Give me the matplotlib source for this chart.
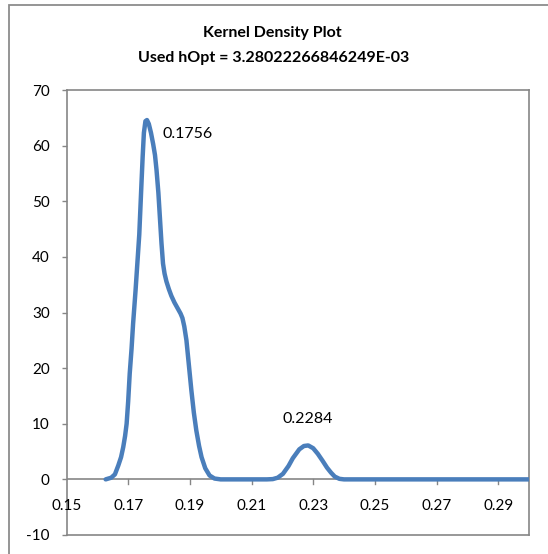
import matplotlib
matplotlib.use("Agg")
import matplotlib.pyplot as plt
from matplotlib.patches import Rectangle

# Data
x_vals = [0.1627, 0.1645, 0.1657, 0.1668, 0.1677, 0.1684, 0.1690, 0.1695, 0.1700,
          0.1705, 0.1711, 0.1716, 0.1724, 0.1730, 0.1736, 0.1743, 0.1747, 0.1751,
          0.1756, 0.1761, 0.1767, 0.1774, 0.1781, 0.1787, 0.1792, 0.1798, 0.1803, 0.1808,
          0.1813, 0.1818, 0.1824, 0.1832, 0.1840, 0.1850, 0.1860, 0.1870, 0.1876,
          0.1882, 0.1889, 0.1897, 0.1905, 0.1913, 0.1921, 0.1930, 0.1938, 0.1950,
          0.1964, 0.1980, 0.2000, 0.2100, 0.2150, 0.2169, 0.2185, 0.2202, 0.2220,
          0.2234, 0.2255, 0.2270, 0.2284, 0.2300, 0.2315, 0.2331, 0.2345, 0.2358,
          0.2370, 0.2385, 0.2400, 0.2500, 0.2600, 0.2700, 0.2800, 0.2900, 0.3000]
y_vals = [0.0, 0.3, 0.9, 2.5, 4.0, 5.8, 7.8, 10.0, 14.0,
          19.0, 23.5, 28.0, 34.0, 39.0, 44.0, 53.0, 58.0, 62.3,
          64.4, 64.6, 63.9, 62.3, 60.3, 58.3, 55.6, 51.5, 47.0, 42.5,
          38.8, 37.0, 35.6, 34.2, 33.0, 31.8, 30.8, 29.8, 29.0,
          27.5, 25.0, 20.5, 16.0, 12.0, 8.8, 6.0, 4.0, 2.0,
          0.7, 0.15, 0.0, 0.0, 0.0, 0.05, 0.3, 1.0, 2.4,
          3.8, 5.4, 6.0, 6.1, 5.6, 4.6, 3.3, 2.1, 1.2,
          0.5, 0.1, 0.0, 0.0, 0.0, 0.0, 0.0, 0.0, 0.0]
peak_x = [0.1756, 0.2284]
peak_y = [64.4, 6.1]
peak_labels = ["0.1756", "0.2284"]

title_lines = ["Kernel Density Plot", "Used hOpt = 3.28022266846249E-03"]
x_ticks = [0.15, 0.17, 0.19, 0.21, 0.23, 0.25, 0.27, 0.29]
x_tick_labels = ["0.15", "0.17", "0.19", "0.21", "0.23", "0.25", "0.27", "0.29"]
y_ticks = [-10, 0, 10, 20, 30, 40, 50, 60, 70]
y_tick_labels = ["-10", "0", "10", "20", "30", "40", "50", "60", "70"]

W, H = 548, 554
plt.rcParams['font.family'] = ['Lato', 'DejaVu Sans']
fig = plt.figure(figsize=(W / 100, H / 100), dpi=100)

# outer chart border
fig.patches.append(Rectangle((9 / W, -0.05), 1.2, (H - 5) / H + 0.05,
                             transform=fig.transFigure, fill=False,
                             edgecolor='#8c8c8c', linewidth=1.3))

left, right, top, bottom = 66.5, 529, 90, 535
ax = fig.add_axes([left / W, (H - bottom) / H, (right - left) / W, (bottom - top) / H])

line_color = '#4A7EBB'
ax.plot(x_vals, y_vals, color=line_color, linewidth=3.2, solid_capstyle='round',
        solid_joinstyle='round', zorder=3)

ax.set_xlim(0.15, 0.30)
ax.set_ylim(-10, 70)

axis_gray = '#868686'
for s in ax.spines.values():
    s.set_color(axis_gray)
    s.set_linewidth(1.2)

# horizontal axis crossing at 0
ax.axhline(0, color=axis_gray, linewidth=1.2, zorder=2)

ax.set_xticks(x_ticks)
ax.set_xticklabels(x_tick_labels)
ax.set_yticks(y_ticks)
ax.set_yticklabels(y_tick_labels)

ax.tick_params(axis='y', direction='out', length=3.6, width=1.0, color=axis_gray,
               pad=8.5, labelsize=11, labelcolor='black')
ax.tick_params(axis='x', bottom=False, labelbottom=False)

# x tick marks and labels at the zero line
for xv, lab in zip(x_ticks, x_tick_labels):
    if xv > 0.15:
        ax.plot([xv, xv], [0, -0.75], color=axis_gray, linewidth=1.0, zorder=2,
                clip_on=False)
    ax.annotate(lab, xy=(xv, 0), xytext=(0, -19.5), textcoords='offset points',
                ha='center', va='center', fontsize=11, color='black')

# peak labels
ax.annotate(peak_labels[0], xy=(peak_x[0], peak_y[0]), xytext=(12, -9),
            textcoords='offset points', ha='left', va='center', fontsize=11.5)
ax.annotate(peak_labels[1], xy=(peak_x[1], peak_y[1]), xytext=(0, 19),
            textcoords='offset points', ha='center', va='center', fontsize=11.5)

fig.text(272 / W, 1 - 33 / H, title_lines[0], ha='center', va='center',
         fontsize=11.5, fontweight='bold')
fig.text(274 / W, 1 - 58 / H, title_lines[1], ha='center', va='center',
         fontsize=11.5, fontweight='bold')

fig.savefig('out.png', dpi=100)
